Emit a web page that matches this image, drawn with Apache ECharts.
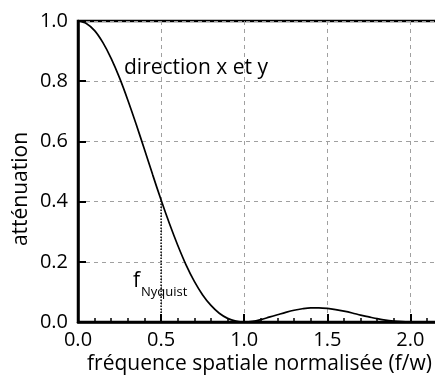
<!DOCTYPE html>
<html><head><meta charset="utf-8">
<script src="https://cdn.jsdelivr.net/npm/echarts@6/dist/echarts.min.js"></script>
<style>html,body{margin:0;padding:0;background:#fff}#c{width:435px;height:378px}</style>
</head><body><div id="c"></div>
<script>
// frequency (f/w) samples
var freq = [0,0.05,0.1,0.15,0.2,0.25,0.3,0.35,0.4,0.45,0.5,0.55,0.6,0.65,0.7,0.75,0.8,0.85,0.9,0.95,1.0,
            1.05,1.1,1.15,1.2,1.25,1.3,1.35,1.4,1.45,1.5,1.55,1.6,1.65,1.7,1.75,1.8,1.85,1.9,1.95,2.0];
// attenuation values
var attenuation = [1.000,0.992,0.968,0.928,0.875,0.811,0.737,0.657,0.573,0.488,0.405,0.327,0.255,0.190,0.135,0.090,0.055,0.029,0.012,0.003,0.000,
                   0.002,0.008,0.016,0.024,0.032,0.039,0.044,0.047,0.047,0.045,0.041,0.036,0.030,0.023,0.017,0.011,0.006,0.003,0.001,0.000];
// Nyquist marker
var nyquistX = [0.5, 0.5];
var nyquistY = [0, 0.405];
var xTicks = [0.0, 0.5, 1.0, 1.5, 2.0];
var yTicks = [0.0, 0.2, 0.4, 0.6, 0.8, 1.0];
var labelCurve = 'direction x et y';
var labelF = 'f';
var labelSub = 'Nyquist';
var xName = 'fréquence spatiale normalisée (f/w)';
var yName = 'atténuation';

var FONT = 'Open Sans';
var chart = echarts.init(document.getElementById('c'), null, {renderer:'canvas'});
var curve = freq.map(function(x,i){return [x, attenuation[i]];});
var nyq = nyquistX.map(function(x,i){return [x, nyquistY[i]];});
chart.setOption({
  animation:false,
  backgroundColor:'#fff',
  grid:{left:78, top:21, right:-58.5, bottom:56, show:true, borderColor:'#000', borderWidth:2.5,
        containLabel:false, outerBoundsMode:'none'},
  xAxis:{type:'value', min:0, max:2.5, interval:0.5,
    axisLine:{lineStyle:{color:'#000', width:2.5}},
    axisTick:{inside:true, length:8, lineStyle:{color:'#000', width:2}},
    minorTick:{show:true, splitNumber:5, length:4, lineStyle:{color:'#000', width:1.5}},
    axisLabel:{color:'#000', fontFamily:FONT, fontSize:20, margin:8,
      formatter:function(v){return xTicks.indexOf(+v.toFixed(1))>=0 ? v.toFixed(1) : '';}},
    splitLine:{show:true, lineStyle:{color:'#a0a0a0', width:1, type:[4,4]}}
  },
  yAxis:{type:'value', min:0, max:1, interval:0.2,
    axisLine:{show:true, lineStyle:{color:'#000', width:2.5}},
    axisTick:{show:true, inside:true, length:8, lineStyle:{color:'#000', width:2}},
    axisLabel:{color:'#000', fontFamily:FONT, fontSize:20, margin:10,
      formatter:function(v){return yTicks.indexOf(+v.toFixed(1))>=0 ? v.toFixed(1) : '';}},
    splitLine:{show:true, lineStyle:{color:'#a0a0a0', width:1, type:[4,4]}}
  },
  series:[
    {type:'line', data:nyq, symbol:'none', z:3, lineStyle:{color:'#000', width:1.5, type:'dotted'}},
    {type:'line', data:curve, symbol:'none', smooth:0.3, z:4, lineStyle:{color:'#000', width:1.7}}
  ],
  graphic:[
    {type:'text', x:124, y:68, style:{text:labelCurve, font:'21px "Open Sans"', fill:'#000', textVerticalAlign:'middle'}},
    {type:'text', x:133, y:281, style:{text:labelF, font:'21px "Open Sans"', fill:'#000', textVerticalAlign:'middle'}},
    {type:'text', x:141, y:292, style:{text:labelSub, font:'13px "Open Sans"', fill:'#000', textVerticalAlign:'middle'}},
    {type:'text', x:259.5, y:364, style:{text:xName, font:'21px "Open Sans"', fill:'#000', textAlign:'center', textVerticalAlign:'middle'}},
    {type:'text', x:21, y:189, rotation:Math.PI/2, style:{text:yName, font:'21px "Open Sans"', fill:'#000', textAlign:'center', textVerticalAlign:'middle'}}
  ]
});
</script></body></html>
